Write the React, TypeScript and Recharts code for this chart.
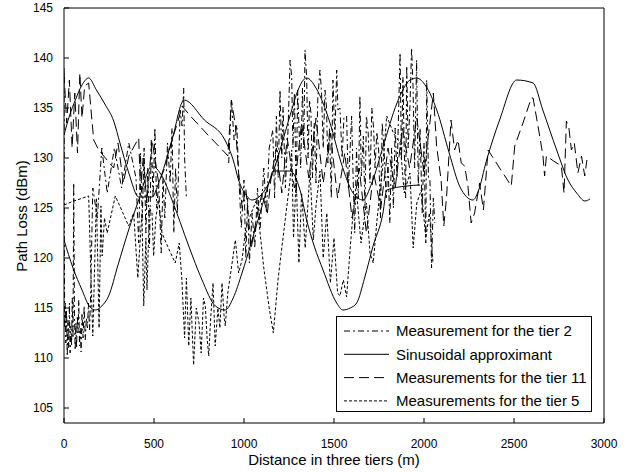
import React from 'react';
import { LineChart, Line, XAxis, YAxis, Legend } from 'recharts';

const FONT = '"Liberation Sans", Arial, Helvetica, sans-serif';

const X_TICKS = [0, 500, 1000, 1500, 2000, 2500, 3000];
const Y_TICKS = [105, 110, 115, 120, 125, 130, 135, 140, 145];

const SERIES_NAMES = [
  'Measurement for the tier 2',
  'Sinusoidal approximant',
  'Measurements for the tier 11',
  'Measurements for the tier 5',
];

// Measurement for the tier 2 (dash-dot) : [distance, path loss]; null = gap in the record
const tier2Raw: [number, number | null][] = [
  [0, 139], [2, 120.5], [4, 113], [7, 115.5], [10, 111.5], [14, 114.8], [18, 110.2], [22, 113.8],
  [26, 111], [30, 115.5], [34, 110.5], [38, 113.2], [42, 111.2], [46, 116], [50, 112], [54, 127.5],
  [58, 114.5], [62, 110.8], [66, 113.5], [70, 111], [74, 114.2], [78, 112.5], [82, 115.8], [86, 111.2],
  [90, 113], [95, 110.6], [100, 114.5], [106, 112], [112, 115.2], [118, 111.8], [124, 114], [130, 113],
  [136, 115.5], [142, 112.8], [148, 116.2], [160, 127], [185, 124], [210, 131], [240, 126.5],
  [280, 131], [320, 127], [360, 131.5], [400, 128], [415, 121.5], [425, 130.5], [435, 124],
  [445, 131], [455, 122.5], [465, 129], [475, 121], [485, 131.8], [495, 126], [505, 133], [515, 125],
  [526, 127.5], [540, 120.5], [550, 128], [560, 124], [575, 131.5], [590, 127.5], [600, 133], [610, 122.5],
  [620, 129], [630, 124.5], [645, 134.8], [656, 133.2], [665, 137], [670, 130], [680, 126], [685, null],
  [915, 129.5], [930, 135.8], [945, 131.8],
  [960, 133.3], [970, 128.5], [985, 123], [1000, 127.8], [1010, 120], [1020, 126], [1030, 119.5],
  [1045, 124.5], [1060, 121], [1075, 127], [1090, 123], [1110, 129], [1125, 124.5], [1140, 131],
  [1160, 132.8], [1170, 126], [1180, 134.2], [1190, 128], [1200, 136.8], [1210, 130], [1217, 135.1],
  [1230, 127], [1245, 133], [1256, 139.8], [1265, 138.1], [1272, 131], [1280, 136.5], [1290, 126.5],
  [1298, 136.8], [1306, 132.8], [1315, 129], [1325, 137], [1332, 131], [1339, 140.8], [1348, 138.1],
  [1356, 130], [1364, 135.8], [1372, 134.5], [1380, 128], [1390, 133.5], [1400, 127.5], [1410, 136],
  [1422, 138.8], [1431, 136.5], [1440, 131], [1450, 136.8], [1458, 135.2], [1466, 129.5], [1475, 133],
  [1485, 126], [1494, 137.8], [1505, 132], [1515, 138.8], [1522, 134.8], [1533, 135], [1545, 130],
  [1555, 134], [1570, 134.2], [1580, 127], [1589, 130.8], [1598, 134.2], [1606, 128.2], [1615, 122.5],
  [1625, 131], [1635, 126], [1644, 136.2], [1652, 128.2], [1663, 132.2], [1672, 125], [1680, 134.2],
  [1690, 132.5], [1700, 127.5], [1710, 135], [1720, 133], [1728, 129], [1738, 132.6], [1748, 130.8],
  [1758, 124], [1768, 133.5], [1778, 130.8], [1790, 126], [1800, 129.5], [1810, 123.5], [1820, 131],
  [1830, 125], [1840, 133], [1850, 128], [1860, 135.5], [1867, 140.5], [1875, 129.8], [1883, 138.1],
  [1890, 131], [1898, 126], [1904, 139.2], [1912, 131], [1922, 135.2], [1931, 141], [1939, 137.2],
  [1948, 129], [1959, 139.8], [1968, 127.2], [1978, 133], [1990, 124.5], [2000, 131.5], [2010, 121.5],
  [2015, 137.8], [2025, 128], [2033, 127.8], [2042, 119], [2052, 126], [2060, 123.5],
];

// Sinusoidal approximant, upper curve
const sinUpperRaw: [number, number][] = [
  [0, 132.3], [30, 134.2], [63, 135.8], [100, 137.3], [137, 138], [180, 136.8], [230, 135.3], [276, 133.7],
  [311, 131.5], [360, 128.5], [415, 126.1], [489, 126.1], [526, 127.5], [600, 131.8], [667, 135.8],
  [780, 133.8], [894, 131.8], [940, 129.8], [970, 127.8], [1015, 126.2], [1044, 125.8], [1089, 126.2],
  [1150, 128], [1200, 130.8], [1260, 134.5], [1300, 136.8], [1348, 138], [1400, 137], [1478, 133.5],
  [1540, 129.5], [1606, 126.5], [1661, 125.8], [1710, 127.5], [1772, 131.1], [1850, 135.5], [1922, 137.8],
  [1959, 138], [2010, 137.2], [2071, 134.8], [2140, 130.5], [2200, 127.1], [2272, 125.8], [2300, 126.6],
  [2348, 129.8], [2420, 133.8], [2515, 137.8], [2606, 137.5], [2660, 134.8], [2737, 130.8], [2800, 127.8],
  [2848, 126.5], [2894, 125.7], [2922, 125.9],
];

// Sinusoidal approximant, lower curve
const sinLowerRaw: [number, number][] = [
  [0, 121.8], [50, 119], [100, 116.8], [140, 115.2], [174, 114.8], [210, 115.2], [248, 116.2], [300, 119.3],
  [359, 122.8], [415, 125.8], [489, 129.2], [544, 128.2], [600, 125.8], [693, 121.2], [767, 117.8],
  [841, 115.2], [896, 114.8], [940, 116], [989, 118.5], [1040, 121.5], [1089, 124.5], [1144, 127.8],
  [1161, 128.7], [1256, 128.7], [1311, 126.8], [1348, 123.8], [1390, 121.2], [1439, 118.8], [1515, 115.5],
  [1550, 114.8], [1590, 115], [1626, 115.5], [1670, 118], [1717, 121.2], [1772, 124.5], [1793, 126.8],
  [1904, 127.2], [1978, 127.3],
];

// Measurements for the tier 11 (long dashes)
const tier11Raw: [number, number | null][] = [
  [0, 138.5], [15, 133.5], [30, 137.8], [45, 131], [60, 136.5], [75, 130.5], [88, 138.5], [100, 134],
  [115, 137.2], [137, 137.5], [165, 131.8], [193, 130.8], [276, 129], [300, 131.5], [330, 127.5],
  [360, 130.2], [415, 132], [425, 126.8], [440, 130], [460, 125.5], [489, 131.8], [526, 127.5], [560, 129],
  [600, 131.8], [630, 133.5], [656, 135.2], [702, 134.2], [800, 132.3], [896, 130.5], [910, 130.2],
  [930, 135.8], [952, 133.3], [970, 128.5], [990, 125], [1010, 127], [1040, 121], [1070, 124],
  [1100, 126.5], [1130, 124.5], [1150, 128], [1180, 131], [1210, 126.5], [1240, 132], [1280, 127],
  [1320, 133.5], [1360, 128], [1400, 134], [1440, 127.5], [1480, 132.5], [1520, 126], [1560, 130.5],
  [1600, 124], [1640, 129], [1680, 122.5], [1720, 128.5], [1760, 125], [1800, 131], [1840, 127],
  [1880, 133], [1920, 129], [1960, 134], [2000, 128.5], [2052, 136.5], [2070, 131.2], [2095, 127.8],
  [2110, 123.2], [2125, 126], [2150, 133.8], [2170, 130.8], [2189, 131.8], [2207, 129.5], [2226, 129.2],
  [2244, 127.2], [2262, 123.5], [2281, 124.5], [2309, 127.5], [2330, 124.8], [2356, 130.8], [2420, 129],
  [2485, 127.2], [2504, 131.2], [2550, 133.5], [2596, 136], [2606, 136], [2640, 132.5], [2661, 130.2],
  [2670, 128.2], [2680, 130.2], [2720, 129.7], [2763, 129.2], [2778, 126.5], [2791, 133.7], [2805, 133],
  [2819, 130.8], [2835, 131.5], [2855, 128.5], [2875, 130.2], [2893, 128.2], [2905, 129.8],
];

// Measurements for the tier 5 (short dashes)
const tier5Raw: [number, number | null][] = [
  [0, 125.3], [40, 125.6], [137, 126.2], [150, 118], [160, 112.2], [170, 119], [180, 126], [195, 113],
  [205, 125.2], [212, 120.2], [225, 124], [240, 122.5], [285, 126.2], [320, 124.8], [359, 123.2],
  [387, 124.5], [410, 118], [433, 124.5], [443, 115.2], [455, 122], [461, 116.8], [475, 125], [489, 124.5],
  [498, 120.2], [510, 124], [526, 125.8], [544, 122.5], [580, 121], [618, 119.5], [640, 121.5],
  [655, 117.8], [670, 112], [680, 118], [693, 111.2], [705, 116], [720, 109.3], [735, 115], [750, 113.5],
  [762, 110.5], [775, 116], [785, 115.2], [795, 112], [804, 110.2], [815, 114], [828, 117.5], [840, 111.2],
  [855, 115], [866, 113], [878, 117.5], [890, 114], [896, 113.2], [910, 116.5], [930, 119], [952, 121.8],
  [970, 118.5], [989, 119.8], [1010, 123], [1040, 124.5], [1070, 125.8], [1110, 119], [1140, 115],
  [1163, 112.5], [1190, 118], [1230, 124], [1256, 127.8], [1265, 130.8], [1275, 122], [1290, 128],
  [1305, 119.5], [1320, 126.5], [1340, 121], [1367, 128.8], [1385, 121.8], [1400, 125.2], [1422, 128.7],
  [1440, 120], [1460, 124.5], [1480, 117.5], [1500, 122], [1520, 116.5], [1533, 116.2], [1552, 117.8],
  [1570, 116.1], [1590, 121], [1606, 124.5], [1626, 126.5], [1650, 121.5], [1680, 125.5], [1700, 120.5],
  [1718, 119.5], [1740, 124], [1770, 129], [1793, 134.2], [1830, 132.5], [1867, 131.5], [1890, 126.5],
  [1922, 128.5], [1940, 121], [1960, 125.5], [1985, 126.8], [2010, 122], [2030, 124.5], [2050, 119.5],
];

const toPts = (raw: [number, number | null][]) => raw.map(([d, v]) => ({ d, v }));
const tier2 = toPts(tier2Raw);
const sinUpper = toPts(sinUpperRaw);
const sinLower = toPts(sinLowerRaw);
const tier11 = toPts(tier11Raw);
const tier5 = toPts(tier5Raw);

const DASH_T2 = '6 3 2 3';
const DASH_T11 = '10 5';
const DASH_T5 = '3 2';

const LEGEND_STYLES = [DASH_T2, undefined, DASH_T11, DASH_T5];

const LegendBox = () => (
  <svg width={257} height={97} style={{ display: 'block' }}>
    <rect x={0.5} y={0.5} width={255} height={95} fill="#fff" stroke="#000" strokeWidth={1} />
    {SERIES_NAMES.map((name, i) => {
      const y = 15 + i * 23.3;
      return (
        <g key={name}>
          <line x1={8} x2={53} y1={y} y2={y} stroke="#000" strokeWidth={1} strokeDasharray={LEGEND_STYLES[i]} />
          <text x={60} y={y} dy="0.35em" fontSize={15} fontFamily={FONT} fill="#000">{name}</text>
        </g>
      );
    })}
  </svg>
);

const tickStyle = { fill: '#000', fontSize: 12, fontFamily: FONT };

export default function App() {
  return (
    <div style={{ position: 'absolute', left: 0, top: 0, width: 632, height: 473, background: '#fff' }}>
      <LineChart width={632} height={473} margin={{ top: 7, right: 27, bottom: 0, left: 0 }}>
        <XAxis
          xAxisId="b"
          dataKey="d"
          type="number"
          domain={[0, 3000]}
          ticks={X_TICKS}
          allowDataOverflow
          height={50}
          stroke="#000"
          tick={tickStyle}
          tickSize={-5}
          tickMargin={21}
          label={{
            content: () => (
              <text x={334} y={460} textAnchor="middle" dy="0.35em" fontSize={15} fontFamily={FONT} fill="#000">
                Distance in three tiers (m)
              </text>
            ),
          }}
        />
        <XAxis
          xAxisId="t"
          orientation="top"
          dataKey="d"
          type="number"
          domain={[0, 3000]}
          ticks={X_TICKS}
          allowDataOverflow
          height={1}
          stroke="#000"
          tick={false}
          tickSize={-5}
        />
        <YAxis
          yAxisId="l"
          type="number"
          domain={[103.5, 145]}
          ticks={Y_TICKS}
          allowDataOverflow
          width={64}
          stroke="#000"
          tick={tickStyle}
          tickSize={-5}
          tickMargin={16}
          label={{
            content: () => (
              <text
                x={22}
                y={216}
                transform="rotate(-90 22 216)"
                textAnchor="middle"
                dy="0.35em"
                fontSize={15}
                fontFamily={FONT}
                fill="#000"
              >
                Path Loss (dBm)
              </text>
            ),
          }}
        />
        <YAxis
          yAxisId="r"
          orientation="right"
          type="number"
          domain={[103.5, 145]}
          ticks={Y_TICKS}
          allowDataOverflow
          width={1}
          stroke="#000"
          tick={false}
          tickSize={-5}
        />
        <Line data={tier5} dataKey="v" xAxisId="b" yAxisId="l" type="linear" stroke="#000" strokeWidth={1}
          strokeDasharray={DASH_T5} dot={false} isAnimationActive={false} name={SERIES_NAMES[3]} />
        <Line data={tier11} dataKey="v" xAxisId="b" yAxisId="l" type="linear" stroke="#000" strokeWidth={1}
          strokeDasharray={DASH_T11} dot={false} isAnimationActive={false} name={SERIES_NAMES[2]} />
        <Line data={tier2} dataKey="v" xAxisId="b" yAxisId="l" type="linear" stroke="#000" strokeWidth={1}
          strokeDasharray={DASH_T2} dot={false} isAnimationActive={false} name={SERIES_NAMES[0]} />
        <Line data={sinUpper} dataKey="v" xAxisId="b" yAxisId="l" type="monotone" stroke="#000" strokeWidth={1}
          dot={false} isAnimationActive={false} name={SERIES_NAMES[1]} />
        <Line data={sinLower} dataKey="v" xAxisId="b" yAxisId="l" type="monotone" stroke="#000" strokeWidth={1}
          dot={false} isAnimationActive={false} legendType="none" />
        <Legend
          layout="horizontal"
          verticalAlign="middle"
          align="center"
          content={() => <LegendBox />}
          wrapperStyle={{ position: 'absolute', left: 336, top: 316, width: 257, height: 97 }}
        />
      </LineChart>
    </div>
  );
}
